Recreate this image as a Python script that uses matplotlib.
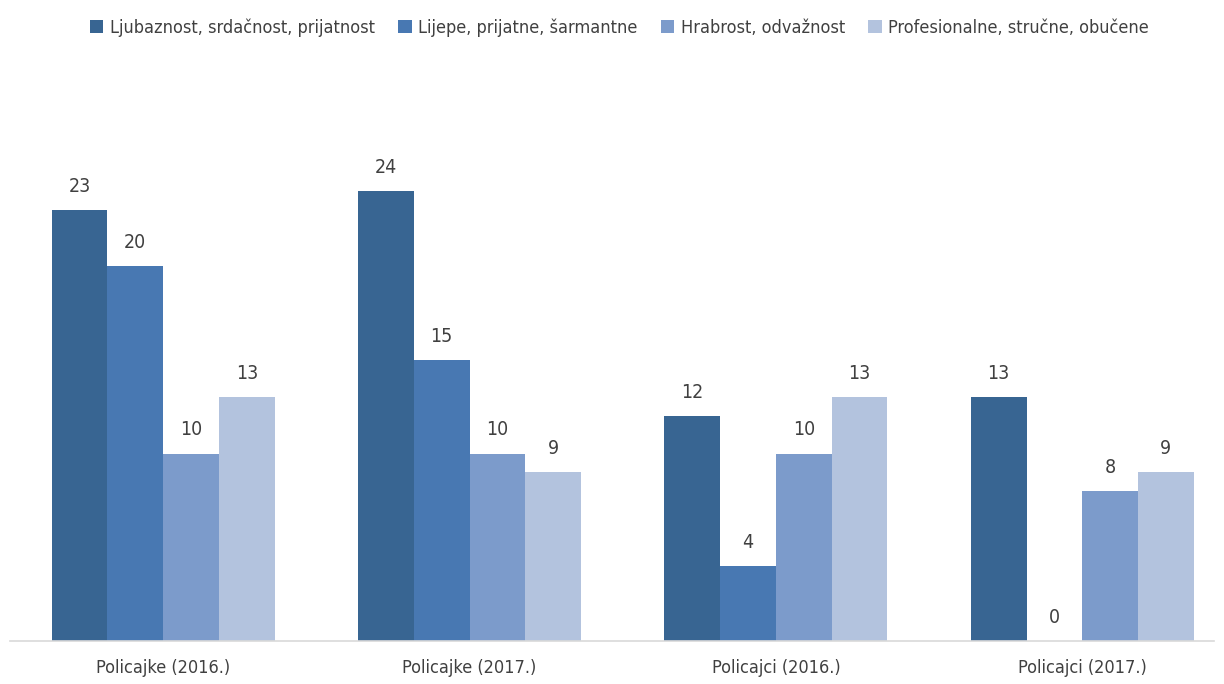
import matplotlib
matplotlib.use('Agg')
import matplotlib.pyplot as plt
import numpy as np

categories = ['Policajke (2016.)', 'Policajke (2017.)', 'Policajci (2016.)', 'Policajci (2017.)']
series_names = ['Ljubaznost, srdačnost, prijatnost', 'Lijepe, prijatne, šarmantne',
                'Hrabrost, odvažnost', 'Profesionalne, stručne, obučene']
values = [
    [23, 24, 12, 13],
    [20, 15, 4, 0],
    [10, 10, 10, 8],
    [13, 9, 13, 9],
]
colors = ['#386592', '#4878B2', '#7C9BCB', '#B3C3DE']

# condensed DejaVu is the closest to the narrow font of the original
plt.rcParams['font.family'] = ['DejaVu Sans']
plt.rcParams['font.stretch'] = 'condensed'
txt_color = '#404040'

fig = plt.figure(figsize=(12.24, 6.84), dpi=100)
ax = fig.add_axes([10 / 1224, 43 / 684, 1204 / 1224, 525 / 684])

x = np.arange(len(categories))
w = 0.182
for i, (name, vals) in enumerate(zip(series_names, values)):
    pos = x + (i - 1.5) * w
    bars = ax.bar(pos, vals, width=w, color=colors[i], label=name, zorder=2)
    for b, v in zip(bars, vals):
        ax.text(b.get_x() + b.get_width() / 2, v + 0.75, str(v), ha='center', va='bottom',
                fontsize=14, color=txt_color)

ax.set_xlim(-0.5, 3.43)
ax.set_ylim(0, 28)
ax.set_yticks([])
ax.set_xticks(x)
ax.set_xticklabels(categories, fontsize=13, color=txt_color)
ax.tick_params(axis='x', length=0, pad=13)
for s in ['top', 'right', 'left']:
    ax.spines[s].set_visible(False)
ax.spines['bottom'].set_color('#d9d9d9')
ax.spines['bottom'].set_linewidth(1.2)

leg = fig.legend(loc='center', bbox_to_anchor=(0.506, 0.96), ncol=4, frameon=False,
                 fontsize=13, handlelength=0.75, handleheight=0.75, handletextpad=0.35,
                 columnspacing=1.3)
for t in leg.get_texts():
    t.set_color(txt_color)

fig.savefig('out.png', dpi=100)
